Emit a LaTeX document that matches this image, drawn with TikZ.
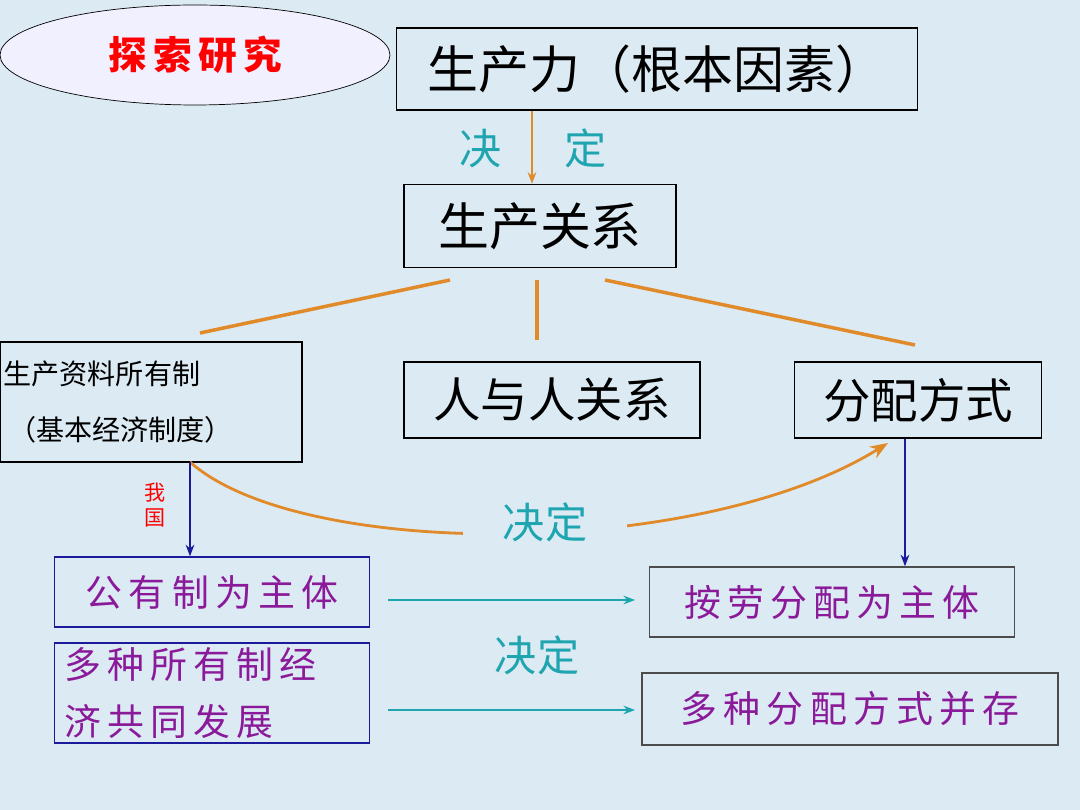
\documentclass[tikz,border=0pt]{standalone}
\usepackage{fontspec}
\setmainfont{Noto Sans CJK SC}
\usetikzlibrary{arrows.meta,shapes.geometric}
\definecolor{bg}{HTML}{DCEBF3}
\definecolor{ored}{HTML}{E08A2A}
\definecolor{tealc}{HTML}{1FA5B0}
\definecolor{purp}{HTML}{8A1A9A}
\definecolor{navy}{HTML}{1A1A9A}
\begin{document}
\begin{tikzpicture}[x=0.02cm,y=-0.02cm,>=Stealth,
    box/.style={draw,thick,inner sep=0pt,fill=bg},
    big/.style={box,font=\fontsize{29}{32}\selectfont},
    small/.style={box,font=\fontsize{16}{32}\selectfont,align=left},
    purpbox/.style={draw=navy,thick,inner sep=0pt,text=purp,font=\fontsize{21}{33}\selectfont,align=left},
    word/.style={text=tealc,font=\fontsize{24}{26}\selectfont}]
  \fill[bg] (0,0) rectangle (1080,810);
  \useasboundingbox (0,0) rectangle (1080,810);
  \node[ellipse,draw,fill=blue!6,inner sep=0pt,
        minimum width=7.8cm,minimum height=2cm,text=red,font=\fontsize{22}{24}\selectfont\bfseries] (explore) at (195,55) {探\,索\,研\,究};
  \node[big,minimum width=10.42cm,minimum height=1.64cm] (force) at (657,69) {生产力（根本因素）};
  \node[big,minimum width=5.44cm,minimum height=1.66cm] (relation) at (540,226) {生产关系};
  \node[small,minimum width=6.04cm,minimum height=2.4cm,text width=5.9cm] (own) at (151,402) {生产资料所有制\\ \,（基本经济制度）};
  \node[big,font=\fontsize{27}{29}\selectfont,minimum width=5.92cm,minimum height=1.52cm] (people) at (552,400) {人与人关系};
  \node[big,font=\fontsize{27}{29}\selectfont,minimum width=4.94cm,minimum height=1.52cm] (dist) at (918,400) {分配方式};
  \node[purpbox,minimum width=6.3cm,minimum height=1.4cm] (public) at (212,592) {公\,有\,制\,为\,主\,体};
  \node[purpbox,minimum width=6.3cm,minimum height=2cm,text width=5.9cm] (multi) at (212,693) {多\,种\,所\,有\,制\,经\\济\,共\,同\,发\,展};
  \node[purpbox,draw=black!70,minimum width=7.3cm,minimum height=1.4cm] (labor) at (832,602) {按\,劳\,分\,配\,为\,主\,体};
  \node[purpbox,draw=black!70,minimum width=8.32cm,minimum height=1.44cm] (various) at (850,709) {多\,种\,分\,配\,方\,式\,并\,存};
  \node[word] (dec1) at (533,148) {决\hspace{1.5em}定};
  \node[text=red,font=\fontsize{12}{14}\selectfont,align=center] (ours) at (155,505) {我\\国};
  \draw[->,ored,thick] (force.south -| 532,0) -- (relation.north -| 532,0);
  \draw[ored,line width=2pt] (450,280) -- (200,333);
  \draw[ored,line width=2pt] (537,280) -- (537,340);
  \draw[ored,line width=2pt] (605,280) -- (915,345);
  \draw[->,ored,line width=1.6pt] (190,462) .. controls (300,560) and (700,560) .. (888,443);
  \node[word,fill=bg,inner xsep=0.8cm] (dec2) at (545,522) {决定};
  \draw[->,navy,thick] (190,462) -- (public.north -| 190,0);
  \draw[->,navy,thick] (dist.south -| 905,0) -- (labor.north -| 905,0);
  \draw[->,tealc,thick] (388,600) -- (635,600);
  \draw[->,tealc,thick] (388,710) -- (635,710);
  \node[word] (dec3) at (537,655) {决定};
\end{tikzpicture}
\end{document}
